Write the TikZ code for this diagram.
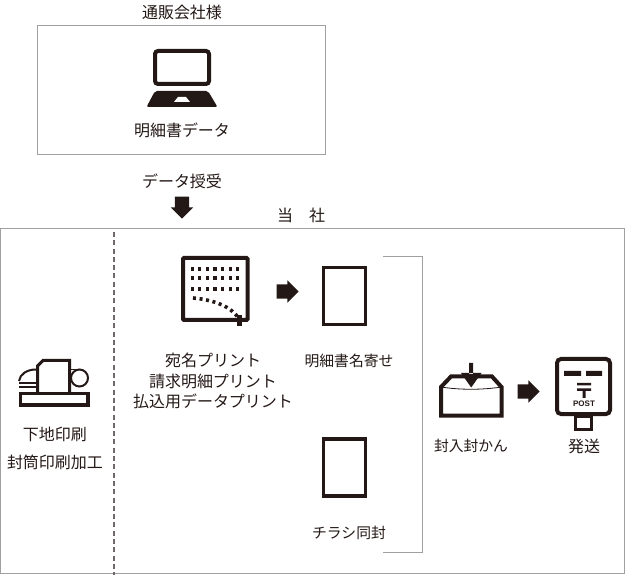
\documentclass[tikz,border=0pt]{standalone}
\usepackage{fontspec}
\setmainfont{Noto Sans CJK JP}
\setsansfont{Liberation Sans}
\usepackage{tikz}
\usetikzlibrary{positioning,calc,shapes.arrows}
\definecolor{ink}{HTML}{231815}
\definecolor{frame}{HTML}{A0A0A0}
\begin{document}
\begin{tikzpicture}[
x=1pt,y=-1pt,
label/.style={text=ink,font=\fontsize{16}{16}\selectfont,inner sep=0pt},
small/.style={label,font=\fontsize{14.8}{15}\selectfont},
box/.style={draw=frame,line width=0.8pt},
doc/.style={draw=ink,line width=3.2pt,minimum width=42pt,minimum height=57pt,inner sep=0pt},
blockarrow/.style={single arrow,fill=ink,inner xsep=0pt,inner ysep=7pt,minimum height=22pt,single arrow head extend=4pt,single arrow head indent=0pt},
]
	\useasboundingbox (0,0) rectangle (625,575);
	% frames
	\draw[box] (37.5,25.5) rectangle (325.5,154);
	\draw[box] (0.5,228.5) rectangle (624,573);
	\coordinate (dashtop) at (114,232);
	\coordinate (dashbot) at (114,575);
	\draw[ink!65,line width=1.2pt,dash pattern=on 5pt off 3.3pt] (dashtop) -- (dashbot);
	% labels
	\node[label] (client) at (182,12) {通販会社様};
	\node[label] (data) at (182,130) {明細書データ};
	\node[label] (handover) at (182,181) {データ授受};
	\node[label] (ours) at (301,215) {当　社};
	\node[label] (under1) at (55,434) {下地印刷};
	\node[label] (under2) at (55,462) {封筒印刷加工};
	\node[label] (print1) at (213,360) {宛名プリント};
	\node[label] (print2) at (213,381) {請求明細プリント};
	\node[label] (print3) at (213,401) {払込用データプリント};
	\node[small] (merge) at (349,361) {明細書名寄せ};
	\node[small] (flyer) at (349,533) {チラシ同封};
	\node[small] (seal) at (471,446) {封入封かん};
	\node[label] (send) at (584,446) {発送};
	% arrows
	\node[blockarrow,rotate=-90] (downarrow) at (182,204) {};
	\node[blockarrow] (arrowa) at (284,291.5) {};
	\node[blockarrow] (arrowb) at (525,391.5) {};
	% laptop
	\draw[ink,line width=4pt,rounded corners=3pt] (155,51) rectangle (209,84);
	\fill[ink,rounded corners=2pt] (155,91) -- (208,91) -- (217.5,107) -- (146.5,107) -- cycle;
	\fill[white] (178,97) -- (186,97) -- (190,102) -- (174,102) -- cycle;
	% sheet with address dots
	\draw[ink,line width=4pt,rounded corners=1pt] (183,258) rectangle (247.5,320);
	\foreach \y in {269,278,289}
		\foreach \x in {0,...,6}
			\fill[ink] ({192+\x*7.6-1.5},\y-2) rectangle ++(3.2,3.8);
	\draw[ink,line width=3.6pt,dash pattern=on 3pt off 3.6pt] (193,298) .. controls (215,300) and (232,307) .. (239,319);
	\fill[ink] (236.5,315) rectangle (242,326);
	% documents
	\node[doc] (sheeta) at (344.5,296) {};
	\node[doc] (sheetb) at (344.5,467.5) {};
	% bracket
	\coordinate (brtop) at (383,256.5);
	\coordinate (brbot) at (383,552);
	\draw[box] (brtop) -- (422,256.5) -- (422,552) -- (brbot);
	% printing machine
	\draw[ink,line width=2pt] (19,381) .. controls (20,374) and (27,369.5) .. (36,369.5);
	\draw[ink,line width=1.6pt] (19,383) -- (36,383) (19,387) -- (36,387);
	\draw[ink,line width=1.6pt] (70,369.5) -- (82,369.5);
	\draw[ink,line width=2pt,fill=white] (79.5,378) circle (8.5);
	\draw[ink,line width=3pt] (37.5,392) -- (37.5,366) -- (43,360.5) -- (69.5,360.5) -- (69.5,392);
	\draw[ink,line width=3.6pt] (20.5,393.5) rectangle (88,405);
	% envelope
	\draw[ink,line width=4pt,miter limit=2] (441,415.5) -- (441,387) -- (451,376.5) -- (492,376.5) -- (501.5,387) -- (501.5,415.5) -- cycle;
	\draw[ink,line width=0.8pt] (441,387) .. controls (460,390) and (482,390) .. (501.5,387);
	\fill[ink] (469.2,363) rectangle (473.2,374) (461,373) -- (481.5,373) -- (471.2,387.5) -- cycle;
	% post box
	\draw[ink,line width=3pt] (575.5,416) rectangle (591.5,429.5);
	\draw[ink,line width=4pt,fill=white,rounded corners=4pt] (557,359) rectangle (610,414);
	\fill[ink] (564,371) rectangle (581,376) (586,371) rectangle (602,376);
	\fill[ink] (577,383) rectangle (591,385.5) (577,388.5) rectangle (591,391) (582.5,389) rectangle (585.5,398);
	\node[text=ink,font=\sffamily\bfseries\fontsize{8}{8}\selectfont,inner sep=0pt] (post) at (584,403.5) {POST};
\end{tikzpicture}
\end{document}
